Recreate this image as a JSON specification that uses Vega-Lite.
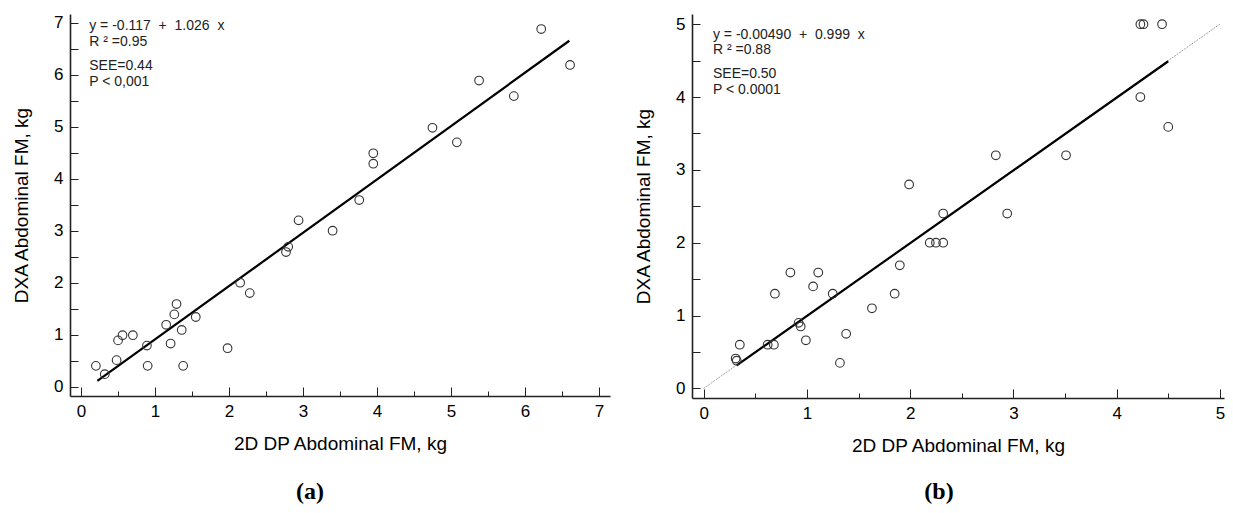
{
  "$schema": "https://vega.github.io/schema/vega-lite/v6.json",
  "background": "white",
  "padding": {"left": 12, "top": 13, "right": 5, "bottom": 3},
  "spacing": 24,
  "config": {
    "view": {"stroke": null},
    "font": "Liberation Sans",
    "axis": {
      "grid": false,
      "domainColor": "#222",
      "domainWidth": 1.6,
      "tickColor": "#222",
      "tickWidth": 1,
      "labelFont": "Liberation Sans",
      "labelFontSize": 17,
      "labelColor": "black",
      "titleFont": "Liberation Sans",
      "titleFontSize": 19,
      "titleFontWeight": "normal",
      "titleColor": "black",
      "labelFlush": false,
      "labelOverlap": false
    }
  },
  "datasets": {
    "ptsA": [
      {"x": 0.2, "y": 0.40}, {"x": 0.32, "y": 0.24}, {"x": 0.48, "y": 0.51}, {"x": 0.50, "y": 0.89},
      {"x": 0.56, "y": 0.99}, {"x": 0.70, "y": 0.99}, {"x": 0.89, "y": 0.79}, {"x": 0.90, "y": 0.40},
      {"x": 1.15, "y": 1.19}, {"x": 1.21, "y": 0.83}, {"x": 1.26, "y": 1.39}, {"x": 1.29, "y": 1.59},
      {"x": 1.36, "y": 1.09}, {"x": 1.38, "y": 0.40}, {"x": 1.55, "y": 1.34}, {"x": 1.98, "y": 0.74},
      {"x": 2.15, "y": 2.0}, {"x": 2.28, "y": 1.80}, {"x": 2.77, "y": 2.59}, {"x": 2.80, "y": 2.69},
      {"x": 2.94, "y": 3.2}, {"x": 3.40, "y": 3.0}, {"x": 3.76, "y": 3.59}, {"x": 3.95, "y": 4.29},
      {"x": 3.95, "y": 4.49}, {"x": 4.75, "y": 4.98}, {"x": 5.08, "y": 4.70}, {"x": 5.38, "y": 5.89},
      {"x": 5.85, "y": 5.59}, {"x": 6.22, "y": 6.88}, {"x": 6.61, "y": 6.19}
    ],
    "fitA": [{"x": 0.22, "y": 0.109}, {"x": 6.6, "y": 6.655}],
    "annA": [
      {"x": 0.11, "y": 6.94, "t": "y = -0.117\u00a0 +\u00a0 1.026\u00a0 x"},
      {"x": 0.11, "y": 6.63, "t": "R \u00b2 =0.95"},
      {"x": 0.11, "y": 6.16, "t": "SEE=0.44"},
      {"x": 0.11, "y": 5.86, "t": "P < 0,001"}
    ],
    "ptsB": [
      {"x": 0.31, "y": 0.41}, {"x": 0.32, "y": 0.38}, {"x": 0.35, "y": 0.60}, {"x": 0.62, "y": 0.60},
      {"x": 0.68, "y": 0.60}, {"x": 0.69, "y": 1.30}, {"x": 0.84, "y": 1.59}, {"x": 0.92, "y": 0.90},
      {"x": 0.94, "y": 0.85}, {"x": 0.99, "y": 0.66}, {"x": 1.06, "y": 1.40}, {"x": 1.11, "y": 1.59},
      {"x": 1.25, "y": 1.30}, {"x": 1.32, "y": 0.35}, {"x": 1.38, "y": 0.75}, {"x": 1.63, "y": 1.10},
      {"x": 1.85, "y": 1.30}, {"x": 1.90, "y": 1.69}, {"x": 1.99, "y": 2.80}, {"x": 2.19, "y": 2.0},
      {"x": 2.25, "y": 2.0}, {"x": 2.32, "y": 2.0}, {"x": 2.32, "y": 2.40}, {"x": 2.83, "y": 3.20},
      {"x": 2.94, "y": 2.40}, {"x": 3.51, "y": 3.20}, {"x": 4.23, "y": 5.0}, {"x": 4.26, "y": 5.0},
      {"x": 4.44, "y": 5.0}, {"x": 4.23, "y": 4.0}, {"x": 4.50, "y": 3.59}
    ],
    "fitB": [{"x": 0.32, "y": 0.315}, {"x": 4.5, "y": 4.491}],
    "idB": [{"x": 0, "y": 0}, {"x": 5, "y": 5}],
    "annB": [
      {"x": 0.09, "y": 4.85, "t": "y = -0.00490\u00a0 +\u00a0 0.999\u00a0 x"},
      {"x": 0.09, "y": 4.64, "t": "R \u00b2 =0.88"},
      {"x": 0.09, "y": 4.32, "t": "SEE=0.50"},
      {"x": 0.09, "y": 4.09, "t": "P < 0.0001"}
    ]
  },
  "hconcat": [
    {
      "width": 540,
      "height": 382,
      "title": {"text": "(a)", "orient": "bottom", "font": "Liberation Serif", "fontSize": 24, "fontWeight": "bold", "color": "black", "offset": 27, "dx": -30},
      "encoding": {
        "x": {"field": "x", "type": "quantitative", "scale": {"domain": [-0.15, 7.15], "nice": false, "zero": false},
          "axis": {"title": "2D DP Abdominal FM, kg", "values": [0,0.5,1,1.5,2,2.5,3,3.5,4,4.5,5,5.5,6,6.5,7],
            "labelExpr": "datum.value % 1 === 0 ? format(datum.value, 'd') : ''",
            "tickSize": {"condition": {"test": "datum.value % 1 === 0", "value": -9}, "value": -5},
            "labelPadding": 16, "titlePadding": 11}},
        "y": {"field": "y", "type": "quantitative", "scale": {"domain": [-0.18, 7.17], "nice": false, "zero": false},
          "axis": {"title": "DXA Abdominal FM, kg", "values": [0,0.5,1,1.5,2,2.5,3,3.5,4,4.5,5,5.5,6,6.5,7],
            "labelExpr": "datum.value % 1 === 0 ? format(datum.value, 'd') : ''",
            "tickSize": -8, "labelPadding": 15, "titlePadding": 22}}
      },
      "layer": [
        {"data": {"name": "fitA"}, "mark": {"type": "line", "color": "black", "strokeWidth": 2.2}},
        {"data": {"name": "ptsA"}, "mark": {"type": "point", "shape": "circle", "filled": false, "color": "#333", "size": 75, "strokeWidth": 1.1, "opacity": 1}},
        {"data": {"name": "annA"}, "mark": {"type": "text", "align": "left", "baseline": "middle", "fontSize": 14, "color": "#222", "font": "Liberation Sans"},
          "encoding": {"text": {"field": "t"}}}
      ]
    },
    {
      "width": 532,
      "height": 384,
      "title": {"text": "(b)", "orient": "bottom", "font": "Liberation Serif", "fontSize": 24, "fontWeight": "bold", "color": "black", "offset": 25, "dx": -19},
      "encoding": {
        "x": {"field": "x", "type": "quantitative", "scale": {"domain": [-0.113, 5.04], "nice": false, "zero": false},
          "axis": {"title": "2D DP Abdominal FM, kg", "values": [0,0.5,1,1.5,2,2.5,3,3.5,4,4.5,5],
            "labelExpr": "datum.value % 1 === 0 ? format(datum.value, 'd') : ''",
            "tickSize": {"condition": {"test": "datum.value % 1 === 0", "value": -9}, "value": -5},
            "labelPadding": 16, "titlePadding": 11}},
        "y": {"field": "y", "type": "quantitative", "scale": {"domain": [-0.132, 5.14], "nice": false, "zero": false},
          "axis": {"title": "DXA Abdominal FM, kg", "values": [0,0.5,1,1.5,2,2.5,3,3.5,4,4.5,5],
            "labelExpr": "datum.value % 1 === 0 ? format(datum.value, 'd') : ''",
            "tickSize": -8, "labelPadding": 15, "titlePadding": 22}}
      },
      "layer": [
        {"data": {"name": "idB"}, "mark": {"type": "line", "color": "#999", "strokeWidth": 0.9, "strokeDash": [2, 1]}},
        {"data": {"name": "fitB"}, "mark": {"type": "line", "color": "black", "strokeWidth": 2.2}},
        {"data": {"name": "ptsB"}, "mark": {"type": "point", "shape": "circle", "filled": false, "color": "#333", "size": 75, "strokeWidth": 1.1, "opacity": 1}},
        {"data": {"name": "annB"}, "mark": {"type": "text", "align": "left", "baseline": "middle", "fontSize": 14, "color": "#222", "font": "Liberation Sans"},
          "encoding": {"text": {"field": "t"}}}
      ]
    }
  ]
}
